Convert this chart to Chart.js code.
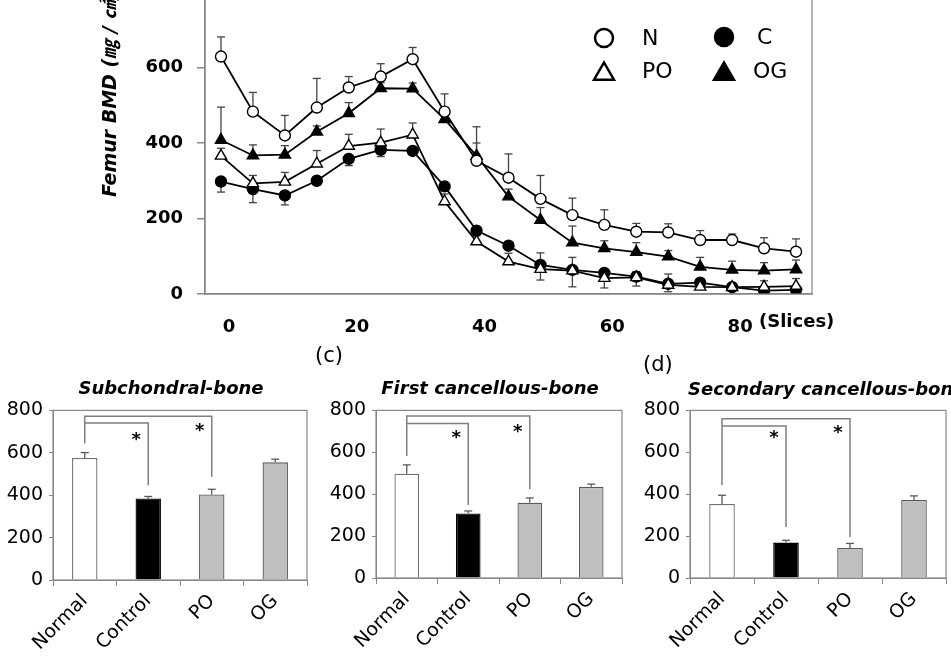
<!DOCTYPE html>
<html>
<head>
<meta charset="utf-8">
<script src="https://cdn.jsdelivr.net/npm/chart.js@4.4.0/dist/chart.umd.min.js"></script>
<style>
  html,body{margin:0;padding:0;background:#fff;}
  body{width:951px;height:656px;position:relative;overflow:hidden;font-family:'DejaVu Sans',sans-serif;}
  canvas{position:absolute;}
  .txt{position:absolute;white-space:nowrap;color:#000;transform:translateY(-50%);}
  .ttl{font-weight:bold;font-style:italic;font-size:18px;}
  .mid{transform:translate(-50%,-50%);}
</style>
</head>
<body>
<canvas id="profile" width="951" height="380" style="left:0;top:-40px"></canvas>
<canvas id="subBar" width="320" height="263" style="left:0;top:393px"></canvas>
<canvas id="firstBar" width="312" height="263" style="left:320px;top:393px"></canvas>
<canvas id="secondBar" width="319" height="263" style="left:632px;top:393px"></canvas>

<div class="txt" style="left:759px;top:320px;font-weight:bold;font-size:18px">(Slices)</div>
<div class="txt ttl mid" style="left:171px;top:387px">Subchondral-bone</div>
<div class="txt" style="left:315px;top:355px;font-size:21px">(c)</div>
<div class="txt ttl mid" style="left:490px;top:387px">First cancellous-bone</div>
<div class="txt" style="left:643px;top:364px;font-size:21px">(d)</div>
<div class="txt ttl" style="left:688px;top:388px">Secondary cancellous-bone</div>

<script>
// femur BMD profile along the slices
const slices = [0,5,10,15,20,25,30,35,40,45,50,55,60,65,70,75,80,85,90];
const sliceTicks = [0,20,40,60,80];
const bmdTicks = [0,200,400,600,800];

const bmdN  = [629,483,420,494,547,576,622,483,353,308,252,209,183,165,163,143,143,121,112];
const errN  = [52,51,53,77,29,34,31,47,90,63,62,45,40,22,23,25,16,28,34];
const bmdC  = [298,278,261,300,358,382,379,285,168,128,77,64,56,46,27,30,18,9,11];
const errC  = [28,36,25,10,18,18,10,10,10,10,40,45,40,25,21,10,8,6,6];
const bmdPO = [366,293,297,345,392,401,422,245,139,86,66,62,42,44,24,19,18,19,21];
const errPO = [20,21,25,35,31,36,31,20,15,22,43,35,15,15,29,15,10,16,20];
const bmdOG = [408,367,369,430,479,545,544,463,366,258,196,136,121,111,99,72,64,62,65];
const errOG = [87,28,24,15,28,15,15,15,34,20,33,44,20,25,16,25,23,21,25];

// regional BMD bars
const groups = ['Normal','Control','PO','OG'];
const subVals = [576,385,403,555];
const subErr = [25,9,25,15];
const firstVals = [498,308,359,435];
const firstErr = [42,12,23,13];
const secondVals = [353,169,143,372];
const secondErr = [42,11,22,20];
const barTicks = [0,200,400,600,800];

const FONT = "'DejaVu Sans', 'Noto Sans CJK JP', sans-serif";
const AXIS = '#888';

const toXY = vals => vals.map((v,i) => ({x: slices[i], y: v}));

function line(ctx, x1, y1, x2, y2) {
  ctx.beginPath(); ctx.moveTo(x1, y1); ctx.lineTo(x2, y2); ctx.stroke();
}

const boxPlugin = {
  id: 'box',
  afterDraw(chart) {
    const {ctx, chartArea: a} = chart;
    ctx.save();
    ctx.strokeStyle = AXIS; ctx.lineWidth = 1.2;
    ctx.strokeRect(a.left, a.top, a.right - a.left, a.bottom - a.top);
    ctx.restore();
  }
};

const profileErrors = {
  id: 'profileErrors',
  beforeDatasetsDraw(chart) {
    const {ctx, scales: {x, y}} = chart;
    ctx.save();
    ctx.strokeStyle = '#444'; ctx.lineWidth = 1.3;
    chart.data.datasets.forEach(ds => {
      ds.err.forEach((e, i) => {
        const v = ds.data[i].y;
        const px = x.getPixelForValue(slices[i]);
        const p0 = y.getPixelForValue(v);
        const p1 = y.getPixelForValue(v + ds.errDir * e);
        line(ctx, px, p0, px, p1);
        line(ctx, px - 4, p1, px + 4, p1);
      });
    });
    ctx.restore();
  }
};

function marker(ctx, shape, x, y, r, fill) {
  ctx.beginPath();
  if (shape === 'circle') {
    ctx.arc(x, y, r, 0, Math.PI * 2);
  } else {
    ctx.moveTo(x, y - r);
    ctx.lineTo(x + r * 0.866, y + r * 0.5);
    ctx.lineTo(x - r * 0.866, y + r * 0.5);
    ctx.closePath();
  }
  ctx.fillStyle = fill; ctx.fill();
  ctx.stroke();
}

const profileLegend = {
  id: 'profileLegend',
  afterDraw(chart) {
    const ctx = chart.ctx;
    ctx.save();
    ctx.strokeStyle = '#000'; ctx.lineWidth = 2.5;
    ctx.font = '22px ' + FONT;
    ctx.textBaseline = 'middle';
    ctx.fillStyle = '#000';
    const items = [
      ['N', 'circle', '#fff', 604, 78, 642],
      ['C', 'circle', '#000', 724, 77, 757],
      ['PO', 'triangle', '#fff', 604, 114, 642],
      ['OG', 'triangle', '#000', 724, 114, 753]
    ];
    items.forEach(([t, shape, fill, mx, my, tx]) => {
      marker(ctx, shape, mx, my, shape === 'circle' ? 9 : 11.5, fill);
      ctx.fillStyle = '#000';
      ctx.fillText(t, tx, shape === 'circle' ? my + 1 : my - 2);
    });
    ctx.restore();
  }
};

function profileSet(label, vals, err, dir, shape, fill) {
  return {
    label, data: toXY(vals), err, errDir: dir,
    borderColor: '#000', borderWidth: 1.8,
    pointStyle: shape, pointRadius: shape === 'circle' ? 5.5 : 6.5,
    pointBackgroundColor: fill, pointBorderColor: '#000', pointBorderWidth: 1.4,
    tension: 0
  };
}

new Chart(document.getElementById('profile'), {
  type: 'line',
  data: {
    datasets: [
      profileSet('N', bmdN, errN, 1, 'circle', '#fff'),
      profileSet('OG', bmdOG, errOG, 1, 'triangle', '#000'),
      profileSet('PO', bmdPO, errPO, 1, 'triangle', '#fff'),
      profileSet('C', bmdC, errC, -1, 'circle', '#000')
    ]
  },
  options: {
    responsive: false, animation: false, events: [],
    layout: {padding: {left: 0, right: 139, top: 32, bottom: 0}},
    plugins: {legend: {display: false}, tooltip: {enabled: false}},
    scales: {
      x: {
        type: 'linear', min: -2.5, max: 92.5,
        afterBuildTicks: s => { s.ticks = sliceTicks.map(v => ({value: v})); },
        afterFit: s => { s.height = 46; },
        grid: {display: false},
        border: {color: AXIS, width: 1.5},
        ticks: {font: {family: FONT, size: 18, weight: 'bold'}, color: '#000',
                padding: 15, labelOffset: 8, maxRotation: 0, autoSkip: false}
      },
      y: {
        min: 0, max: 800,
        afterBuildTicks: s => { s.ticks = bmdTicks.map(v => ({value: v})); },
        afterFit: s => { s.width = 205; },
        grid: {drawOnChartArea: false, tickLength: 8, color: AXIS, lineWidth: 1.5},
        border: {color: AXIS, width: 1.5},
        ticks: {font: {family: FONT, size: 18, weight: 'bold'}, color: '#000', padding: 14},
        title: {
          display: true, text: 'Femur BMD (㎎ / ㎠)', align: 'end', color: '#000',
          font: {family: FONT, size: 19, weight: 'bold', style: 'italic'},
          padding: {top: 100, bottom: 0}
        }
      }
    }
  },
  plugins: [profileErrors, profileLegend, boxPlugin]
});

const barFill = ['#ffffff', '#000000', '#bfbfbf', '#bfbfbf'];
const barEdge = ['#6f6f6f', '#000000', '#595959', '#595959'];

const barErrors = {
  id: 'barErrors',
  afterDatasetsDraw(chart) {
    const {ctx, scales: {y}} = chart;
    const meta = chart.getDatasetMeta(0);
    const ds = chart.data.datasets[0];
    ctx.save();
    ctx.strokeStyle = '#595959'; ctx.lineWidth = 1.3;
    meta.data.forEach((bar, i) => {
      const p0 = y.getPixelForValue(ds.data[i]);
      const p1 = y.getPixelForValue(ds.data[i] + ds.err[i]);
      line(ctx, bar.x, p0, bar.x, p1);
      line(ctx, bar.x - 4, p1, bar.x + 4, p1);
    });
    ctx.restore();
  }
};

const brackets = {
  id: 'brackets',
  afterDatasetsDraw(chart) {
    const b = chart.options.plugins.brackets;
    const {ctx, scales: {y}} = chart;
    const bars = chart.getDatasetMeta(0).data;
    const x0 = bars[0].x, xc = bars[1].x, xp = bars[2].x;
    const Y = v => y.getPixelForValue(v);
    ctx.save();
    ctx.strokeStyle = '#7f7f7f'; ctx.lineWidth = 1.5;
    ctx.beginPath();
    ctx.moveTo(x0, Y(b.start)); ctx.lineTo(x0, Y(b.outer));
    ctx.lineTo(xp, Y(b.outer)); ctx.lineTo(xp, Y(b.poEnd));
    ctx.moveTo(x0, Y(b.inner)); ctx.lineTo(xc, Y(b.inner)); ctx.lineTo(xc, Y(b.ctrlEnd));
    ctx.stroke();
    ctx.fillStyle = '#000';
    ctx.font = 'bold 18px ' + FONT;
    ctx.textAlign = 'center'; ctx.textBaseline = 'middle';
    ctx.fillText('*', xc - 12, Y(b.ctrlStar) + 4);
    ctx.fillText('*', xp - 12, Y(b.poStar) + 4);
    ctx.restore();
  }
};

function barChart(id, vals, err, box, marks) {
  return new Chart(document.getElementById(id), {
    type: 'bar',
    data: {
      labels: groups,
      datasets: [{data: vals, err, backgroundColor: barFill, borderColor: barEdge,
                  borderWidth: 1.3, barPercentage: 0.4, categoryPercentage: 1}]
    },
    options: {
      responsive: false, animation: false, events: [],
      layout: {padding: {left: 0, right: box.right, top: box.top, bottom: 0}},
      plugins: {legend: {display: false}, tooltip: {enabled: false}, brackets: marks},
      scales: {
        x: {
          afterFit: s => { s.height = box.xh; },
          grid: {offset: true, drawOnChartArea: false, tickLength: 6, color: AXIS},
          border: {color: AXIS},
          ticks: {font: {family: FONT, size: 19}, color: '#000', minRotation: 45, maxRotation: 45, padding: 4}
        },
        y: {
          min: 0, max: 800,
          afterBuildTicks: s => { s.ticks = barTicks.map(v => ({value: v})); },
          afterFit: s => { s.width = box.yw; },
          grid: {drawOnChartArea: false, tickLength: 4, color: AXIS},
          border: {color: AXIS},
          ticks: {font: {family: FONT, size: 19}, color: '#000', padding: 6}
        }
      }
    },
    plugins: [barErrors, brackets, boxPlugin]
  });
}

barChart('subBar', subVals, subErr, {right: 13, top: 13, xh: 76, yw: 53},
  {start: 644, outer: 772, inner: 740, ctrlEnd: 446, poEnd: 487, ctrlStar: 680, poStar: 722});
barChart('firstBar', firstVals, firstErr, {right: 10, top: 13, xh: 78, yw: 56},
  {start: 582, outer: 773, inner: 738, ctrlEnd: 348, poEnd: 425, ctrlStar: 688, poStar: 716});
barChart('secondBar', secondVals, secondErr, {right: 5, top: 15, xh: 78, yw: 58},
  {start: 444, outer: 760, inner: 726, ctrlEnd: 243, poEnd: 196, ctrlStar: 686, poStar: 711});
</script>
</body>
</html>
